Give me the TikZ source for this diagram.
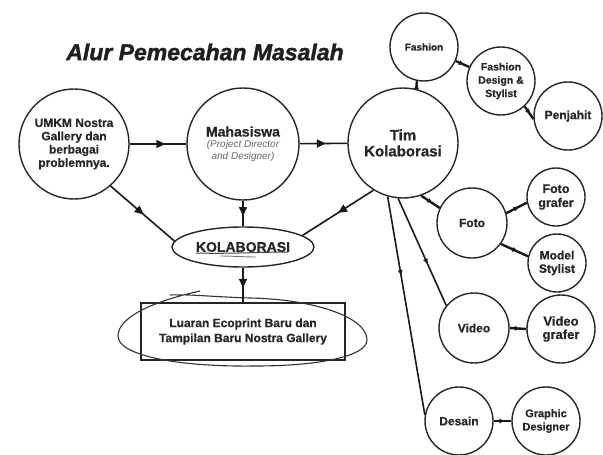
\documentclass[tikz,border=0pt]{standalone}
\usepackage{fontspec}
\setmainfont{Liberation Sans}[BoldFeatures={FakeBold=0.7},BoldItalicFeatures={FakeBold=1.6}]
\usetikzlibrary{arrows.meta,decorations.markings,shapes.geometric}
\begin{document}
\begin{tikzpicture}[x=1pt,y=-1pt,
  circ/.style={draw=black!85, line width=1.4pt, circle, inner sep=0pt, align=center, text=black!85},
  conn/.style={draw=black!90, line width=1.6pt},
  sconn/.style={draw=black!90, line width=2.4pt},
  midarrow/.style={postaction={decorate}, decoration={markings, mark=at position #1 with {\arrow{Triangle[length=9pt,width=8pt]}}}},
  smallarrow/.style={postaction={decorate}, decoration={markings, mark=at position #1 with {\arrow{Triangle[length=5pt,width=4.5pt]}}}},
  bf/.style={font=\bfseries\fontsize{#1}{13.3}\selectfont}
]
\useasboundingbox (0,0) rectangle (603,455);

% title
\node[font=\bfseries\itshape\fontsize{23}{26}\selectfont, text=black!88] (title) at (205,52) {Alur Pemecahan Masalah};

% main circles
\node[circ, minimum size=110pt, bf=12] (umkm) at (74,144) {UMKM Nostra\\Gallery dan\\berbagai\\problemnya.};
\node[circ, minimum size=112pt] (maha) at (243,144) {{\bfseries\fontsize{14}{15}\selectfont Mahasiswa}\\[-1pt]
  {\itshape\fontsize{10}{12.5}\selectfont\color{black!60}(Project Director}\\
  {\itshape\fontsize{10}{12.5}\selectfont\color{black!60}and Designer)}};
\node[circ, minimum size=110pt, font=\bfseries\fontsize{15}{16}\selectfont] (tim) at (403,143) {Tim\\Kolaborasi};

% team circles
\node[circ, minimum size=68pt, bf=10] (fashion) at (424,47) {Fashion};
\node[circ, minimum size=68pt, bf=10.5] (fds) at (501,81) {Fashion\\Design \&\\Stylist};
\node[circ, minimum size=68pt, bf=12] (penjahit) at (568,116) {Penjahit};
\node[circ, minimum size=58pt, font=\bfseries\fontsize{12.5}{14}\selectfont] (fotografer) at (556,197) {Foto\\grafer};
\node[circ, minimum size=70pt, bf=12] (foto) at (472,223) {Foto};
\node[circ, minimum size=58pt, bf=12] (model) at (557,263) {Model\\Stylist};
\node[circ, minimum size=70pt, bf=12] (video) at (474,328) {Video};
\node[circ, minimum size=68pt, bf=13] (videografer) at (561,329) {Video\\grafer};
\node[circ, minimum size=68pt, bf=12] (desain) at (459,421) {Desain};
\node[circ, minimum size=68pt, bf=11] (graphic) at (546,421) {Graphic\\Designer};

% kolaborasi ellipse
\node[draw=black!85, line width=1.4pt, ellipse, minimum width=142pt, minimum height=40pt, inner sep=0pt,
  font=\bfseries\fontsize{14}{15}\selectfont, text=black!85] (kolab) at (243,247) {KOLABORASI};
\coordinate (ul1a) at (196,253);
\coordinate (ul1b) at (288,252);
\coordinate (ul2a) at (220,256);
\coordinate (ul2b) at (256,257);
\draw[black!75, line width=1pt] (ul1a) .. controls (230,254) and (260,252) .. (ul1b);
\draw[black!55, line width=0.9pt] (ul2a) .. controls (232,256) and (245,257) .. (ul2b);

% result box
\node[draw=black!85, line width=1.3pt, rectangle, minimum width=204pt, minimum height=57pt, align=center,
  font=\bfseries\fontsize{12}{15}\selectfont, text=black!85] (box) at (243,331.5) {Luaran Ecoprint Baru dan\\Tampilan Baru Nostra Gallery};

% hand-drawn ellipse around box
\coordinate (hs) at (200,291);
\coordinate (he) at (170,295);
\draw[black!80, line width=1.1pt] (hs) .. controls (150,302) and (118,318) .. (118,336)
  .. controls (118,356) and (180,367) .. (255,366)
  .. controls (320,366) and (367,356) .. (367,340)
  .. controls (367,316) and (310,299) .. (250,298)
  .. controls (215,297) and (188,294) .. (he);

% main connectors
\draw[conn, midarrow=0.63] (umkm) -- (maha);
\draw[conn, midarrow=0.55] (maha) -- (tim);
\draw[conn, midarrow=0.52] (umkm.311) -- (kolab.175);
\draw[conn, midarrow=0.6] (maha.south) -- (kolab.north);
\draw[conn, midarrow=0.5] (tim.238) -- (kolab.11);
\draw[conn, midarrow=0.58] (kolab.south) -- (box.north);

% team connectors
\draw[sconn, smallarrow=0.6] (tim.76) -- (fashion.258);
\draw[sconn, smallarrow=0.6] (fashion) -- (fds);
\draw[sconn, smallarrow=0.6] (fds.313) -- (penjahit.185);
\draw[sconn, smallarrow=0.6] (tim.289) -- (foto.155);
\draw[sconn, smallarrow=0.6] (foto.16) -- (fotografer.191);
\draw[sconn, smallarrow=0.6] (foto.324) -- (model.167);
\draw[conn, smallarrow=0.61] (tim.265) -- (video.141);
\draw[conn, smallarrow=0.36] (tim.254) -- (desain.170);
\draw[sconn, smallarrow=0.6] (video.east) -- (videografer.west);
\draw[sconn, smallarrow=0.6] (desain.east) -- (graphic.west);
\end{tikzpicture}
\end{document}
